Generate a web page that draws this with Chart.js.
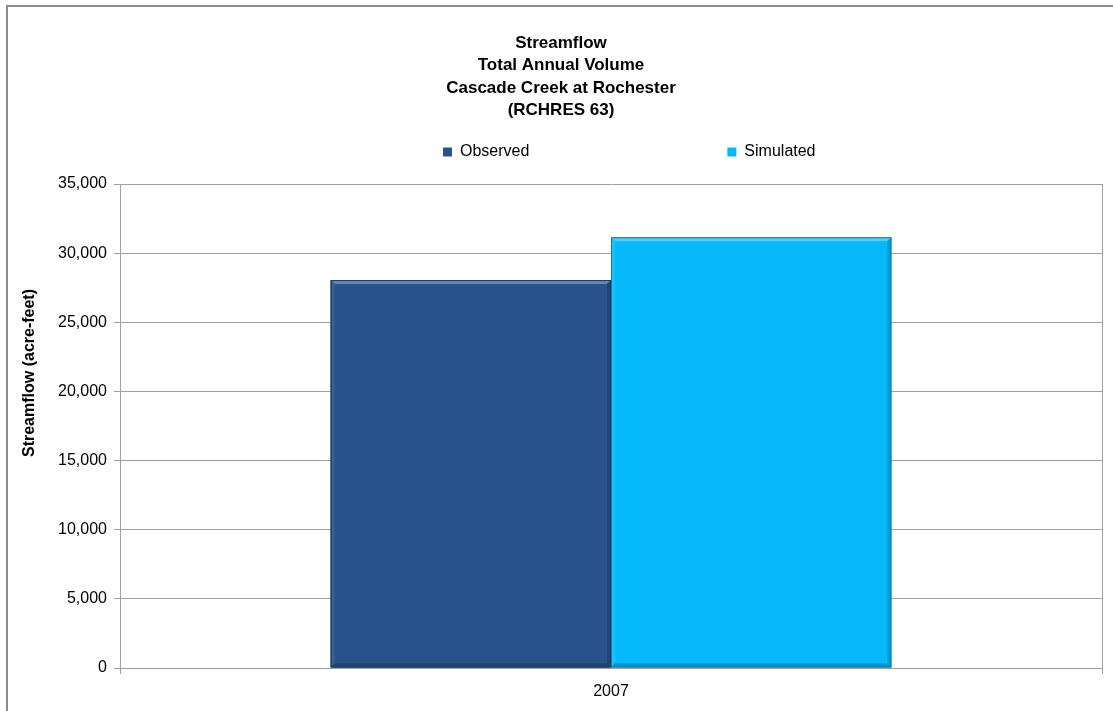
<!DOCTYPE html>
<html>
<head>
<meta charset="utf-8">
<script src="https://cdn.jsdelivr.net/npm/chart.js@4/dist/chart.umd.min.js"></script>
<style>
  html, body { margin: 0; padding: 0; background: #ffffff; }
  #wrap { width: 1113px; height: 711px; position: relative; }
</style>
</head>
<body>
<div id="wrap"><canvas id="c" width="1113" height="711"></canvas></div>
<script>
// ---- data ----
const categories = ['2007'];
const seriesNames = ['Observed', 'Simulated'];
const observedValues = [28050];
const simulatedValues = [31150];
const titleLines = ['Streamflow', 'Total Annual Volume', 'Cascade Creek at Rochester', '(RCHRES 63)'];
const yAxisTitle = 'Streamflow (acre-feet)';
const yMin = 0;
const yMax = 35000;
const yStep = 5000;

// ---- styles ----
const FONT = "'Liberation Sans', Arial, sans-serif";
const observedColor = '#27528a';
const simulatedColor = '#06b9fb';
const gridColor = '#a0a0a0';

const TITLE_SIZE = 17, TITLE_LH = 1.31, TITLE_PAD_TOP = 26.4, LAYOUT_TOP = 6;
const PLOT_TOP = 184;

// frame + background
const framePlugin = {
  id: 'frame',
  beforeDraw(chart) {
    const ctx = chart.ctx;
    ctx.save();
    ctx.fillStyle = '#ffffff';
    ctx.fillRect(0, 0, chart.width, chart.height);
    ctx.strokeStyle = '#8c8c8c';
    ctx.lineWidth = 2;
    ctx.beginPath();
    ctx.moveTo(7, chart.height);
    ctx.lineTo(7, 6);
    ctx.lineTo(chart.width, 6);
    ctx.stroke();
    ctx.restore();
  }
};

// legend / title placement as in the original
const LEGEND_Y = 144;
const LEGEND_X = 443;
const TITLE_DX = 10;
const placement = {
  id: 'placement',
  beforeInit(chart) {
    const lg = chart.legend;
    if (lg) {
      const origFit = lg.fit.bind(lg);
      lg.fit = function () {
        origFit();
        this.height = PLOT_TOP - (LAYOUT_TOP + TITLE_PAD_TOP + 4 * TITLE_SIZE * TITLE_LH);
      };
      const origDraw = lg.draw.bind(lg);
      lg.draw = function () {
        const p = this.options.labels.padding;
        const t = this.top, l = this.left, r = this.right;
        const startX = (l + p + r - this.lineWidths[0]) / 2;
        const dx = LEGEND_X - startX;
        this.top = LEGEND_Y - p;
        this.left = l + dx;
        this.right = r + dx;
        origDraw();
        this.top = t; this.left = l; this.right = r;
      };
    }
    const tb = chart.titleBlock;
    if (tb) {
      const origTDraw = tb.draw.bind(tb);
      tb.draw = function () {
        const l = this.left, r = this.right;
        this.left = l + TITLE_DX; this.right = r + TITLE_DX;
        origTDraw();
        this.left = l; this.right = r;
      };
    }
  }
};

// bevel look on bars
function shade(hex, amt) {
  const n = parseInt(hex.slice(1), 16);
  let r = (n >> 16) & 255, g = (n >> 8) & 255, b = n & 255;
  const f = (c) => Math.max(0, Math.min(255, Math.round(amt > 0 ? c + (255 - c) * amt : c * (1 + amt))));
  return 'rgb(' + f(r) + ',' + f(g) + ',' + f(b) + ')';
}
const bevelPlugin = {
  id: 'bevel',
  afterDatasetsDraw(chart) {
    const ctx = chart.ctx;
    chart.data.datasets.forEach((ds, di) => {
      const meta = chart.getDatasetMeta(di);
      meta.data.forEach((bar) => {
        const p = bar.getProps(['x', 'y', 'width', 'base'], true);
        const L = p.x - p.width / 2, R = p.x + p.width / 2, T = p.y, B = p.base;
        const b = 4;
        const c = ds.backgroundColor;
        ctx.save();
        ctx.fillStyle = shade(c, 0.3);
        ctx.beginPath(); ctx.moveTo(L, T); ctx.lineTo(R, T); ctx.lineTo(R - b, T + b); ctx.lineTo(L + b, T + b); ctx.closePath(); ctx.fill();
        ctx.fillStyle = shade(c, 0.08);
        ctx.beginPath(); ctx.moveTo(L, T); ctx.lineTo(L + b, T + b); ctx.lineTo(L + b, B - b); ctx.lineTo(L, B); ctx.closePath(); ctx.fill();
        ctx.fillStyle = shade(c, -0.15);
        ctx.beginPath(); ctx.moveTo(R, T); ctx.lineTo(R, B); ctx.lineTo(R - b, B - b); ctx.lineTo(R - b, T + b); ctx.closePath(); ctx.fill();
        ctx.fillStyle = shade(c, -0.2);
        ctx.beginPath(); ctx.moveTo(L, B); ctx.lineTo(R, B); ctx.lineTo(R - b, B - b); ctx.lineTo(L + b, B - b); ctx.closePath(); ctx.fill();
        ctx.strokeStyle = shade(c, -0.3);
        ctx.lineWidth = 1;
        ctx.strokeRect(L + 0.5, T + 0.5, p.width - 1, B - T - 1);
        ctx.restore();
      });
    });
  }
};

const Y_TITLE_SHIFT = -53;

const ctx = document.getElementById('c').getContext('2d');
new Chart(ctx, {
  type: 'bar',
  data: {
    labels: categories,
    datasets: [
      { label: seriesNames[0], data: observedValues, backgroundColor: observedColor, borderWidth: 0,
        categoryPercentage: 0.571, barPercentage: 1.0 },
      { label: seriesNames[1], data: simulatedValues, backgroundColor: simulatedColor, borderWidth: 0,
        categoryPercentage: 0.571, barPercentage: 1.0 }
    ]
  },
  options: {
    responsive: false,
    animation: false,
    devicePixelRatio: 1,
    layout: { padding: { top: LAYOUT_TOP, left: 0, right: 11, bottom: 0 } },
    plugins: {
      title: {
        display: true,
        text: titleLines,
        color: '#000000',
        font: { family: FONT, size: TITLE_SIZE, weight: 'bold', lineHeight: TITLE_LH },
        padding: { top: TITLE_PAD_TOP, bottom: 0 }
      },
      legend: {
        display: true,
        position: 'top',
        labels: {
          color: '#000000',
          font: { family: FONT, size: 16 },
          boxWidth: 9,
          boxHeight: 9,
          padding: 198
        }
      },
      tooltip: { enabled: false }
    },
    scales: {
      x: {
        offset: true,
        grid: { display: true, drawOnChartArea: true, color: gridColor, tickLength: 6, offset: true },
        border: { display: true, color: gridColor },
        ticks: { color: '#000000', font: { family: FONT, size: 16 }, padding: 8 },
        afterFit(scale) { scale.height = 43; }
      },
      y: {
        min: yMin,
        max: yMax,
        grid: { color: gridColor, tickLength: 6 },
        border: { display: true, color: gridColor },
        ticks: {
          stepSize: yStep,
          color: '#000000',
          font: { family: FONT, size: 16 },
          padding: 7,
          callback: (v) => Number(v).toLocaleString('en-US')
        },
        title: {
          display: true,
          text: yAxisTitle,
          color: '#000000',
          font: { family: FONT, size: 16, weight: 'bold' },
          padding: { top: 20, bottom: 0 }
        },
        afterFit(scale) {
          scale.width = 120;
          if (!scale._titleShifted) {
            const orig = scale.drawTitle.bind(scale);
            scale.drawTitle = function () {
              const t = this.top, b = this.bottom;
              this.top = t + Y_TITLE_SHIFT; this.bottom = b + Y_TITLE_SHIFT;
              orig();
              this.top = t; this.bottom = b;
            };
            scale._titleShifted = true;
          }
        }
      }
    }
  },
  plugins: [framePlugin, placement, bevelPlugin]
});
</script>
</body>
</html>
